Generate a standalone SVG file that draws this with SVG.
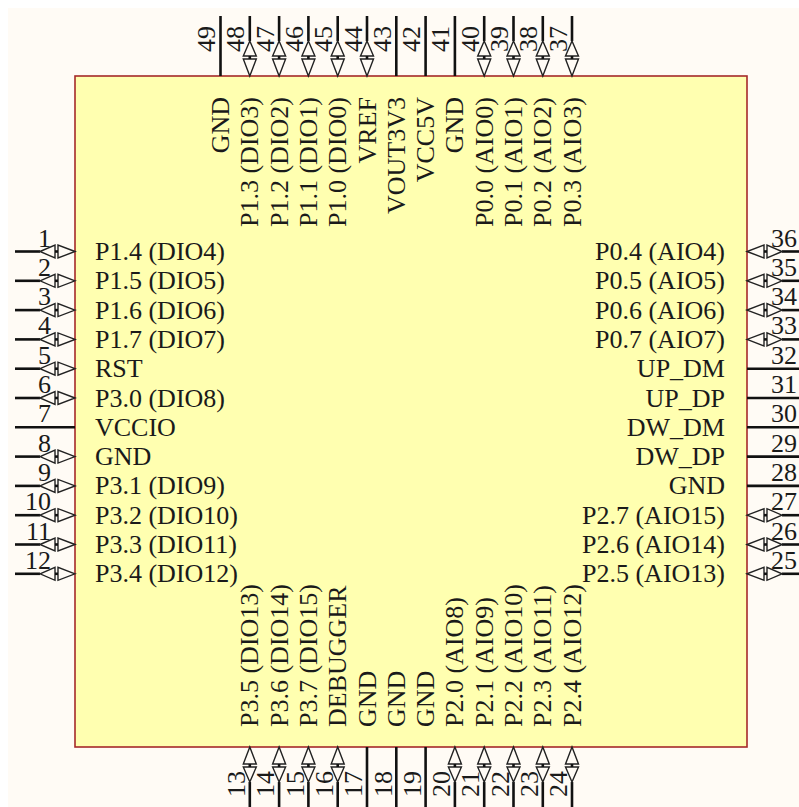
<svg xmlns="http://www.w3.org/2000/svg" width="799" height="807" viewBox="0 0 799 807">
<style>
text{font-family:"Liberation Serif","Times New Roman",serif;font-size:26px;fill:#1a1a1a}
.n{font-size:26px}
.e{text-anchor:end}
.w{stroke:#111;stroke-width:2.6;fill:none}
.a{stroke:#222;stroke-width:1.4;fill:#fffbf5}
</style>
<defs>
<g id="bi"><path class="w" d="M0 0H25"/><path class="a" d="M25 0L40 -6.5V6.5Z"/><path class="a" d="M60 0L43 -6.5V6.5Z"/><path class="w" d="M40 0H43"/></g>
<g id="pl"><path class="w" d="M0 0H60"/></g>
</defs>
<rect width="799" height="807" fill="#fff"/>
<rect x="8" y="8" width="791" height="799" fill="#fffbf5"/>
<rect id="body" x="75" y="76" width="672" height="671" fill="#ffffb0" stroke="#a52a2a" stroke-width="1.6"/>
<g id="connectors">
<use href="#bi" x="15" y="251.5"/><use href="#bi" x="15" y="280.8"/><use href="#bi" x="15" y="310.1"/><use href="#bi" x="15" y="339.4"/><use href="#bi" x="15" y="368.7"/><use href="#bi" x="15" y="398"/><use href="#pl" x="15" y="427.3"/><use href="#bi" x="15" y="456.6"/><use href="#bi" x="15" y="485.9"/><use href="#bi" x="15" y="515.2"/><use href="#bi" x="15" y="544.5"/><use href="#bi" x="15" y="573.8"/>
<use href="#bi" transform="translate(807 251.5) rotate(180)"/><use href="#bi" transform="translate(807 280.8) rotate(180)"/><use href="#bi" transform="translate(807 310.1) rotate(180)"/><use href="#bi" transform="translate(807 339.4) rotate(180)"/><use href="#pl" transform="translate(807 368.7) rotate(180)"/><use href="#pl" transform="translate(807 398) rotate(180)"/><use href="#pl" transform="translate(807 427.3) rotate(180)"/><use href="#pl" transform="translate(807 456.6) rotate(180)"/><use href="#pl" transform="translate(807 485.9) rotate(180)"/><use href="#bi" transform="translate(807 515.2) rotate(180)"/><use href="#bi" transform="translate(807 544.5) rotate(180)"/><use href="#bi" transform="translate(807 573.8) rotate(180)"/>
<use href="#pl" transform="translate(220.5 16) rotate(90)"/><use href="#bi" transform="translate(249.8 16) rotate(90)"/><use href="#bi" transform="translate(279.1 16) rotate(90)"/><use href="#bi" transform="translate(308.4 16) rotate(90)"/><use href="#bi" transform="translate(337.7 16) rotate(90)"/><use href="#bi" transform="translate(367 16) rotate(90)"/><use href="#pl" transform="translate(396.3 16) rotate(90)"/><use href="#pl" transform="translate(425.6 16) rotate(90)"/><use href="#pl" transform="translate(454.9 16) rotate(90)"/><use href="#bi" transform="translate(484.2 16) rotate(90)"/><use href="#bi" transform="translate(513.5 16) rotate(90)"/><use href="#bi" transform="translate(542.8 16) rotate(90)"/><use href="#bi" transform="translate(572 16) rotate(90)"/>
<use href="#bi" transform="translate(249.8 807) rotate(-90)"/><use href="#bi" transform="translate(279.1 807) rotate(-90)"/><use href="#bi" transform="translate(308.4 807) rotate(-90)"/><use href="#bi" transform="translate(337.7 807) rotate(-90)"/><use href="#pl" transform="translate(367 807) rotate(-90)"/><use href="#pl" transform="translate(396.3 807) rotate(-90)"/><use href="#pl" transform="translate(425.6 807) rotate(-90)"/><use href="#bi" transform="translate(454.9 807) rotate(-90)"/><use href="#bi" transform="translate(484.2 807) rotate(-90)"/><use href="#bi" transform="translate(513.5 807) rotate(-90)"/><use href="#bi" transform="translate(542.8 807) rotate(-90)"/><use href="#bi" transform="translate(572 807) rotate(-90)"/>
</g>
<g id="left-labels">
<text x="95" y="260">P1.4 (DIO4)</text><text x="95" y="289.3">P1.5 (DIO5)</text><text x="95" y="318.6">P1.6 (DIO6)</text><text x="95" y="347.9">P1.7 (DIO7)</text><text x="95" y="377.2">RST</text><text x="95" y="406.5">P3.0 (DIO8)</text><text x="95" y="435.8">VCCIO</text><text x="95" y="465.1">GND</text><text x="95" y="494.4">P3.1 (DIO9)</text><text x="95" y="523.7">P3.2 (DIO10)</text><text x="95" y="553">P3.3 (DIO11)</text><text x="95" y="582.3">P3.4 (DIO12)</text>
<text class="n e" x="51" y="246.5">1</text><text class="n e" x="51" y="275.8">2</text><text class="n e" x="51" y="305.1">3</text><text class="n e" x="51" y="334.4">4</text><text class="n e" x="51" y="363.7">5</text><text class="n e" x="51" y="393">6</text><text class="n e" x="51" y="422.3">7</text><text class="n e" x="51" y="451.6">8</text><text class="n e" x="51" y="480.9">9</text><text class="n e" x="51" y="510.2">10</text><text class="n e" x="51" y="539.5">11</text><text class="n e" x="51" y="568.8">12</text>
</g>
<g id="right-labels">
<text class="e" x="725" y="260">P0.4 (AIO4)</text><text class="e" x="725" y="289.3">P0.5 (AIO5)</text><text class="e" x="725" y="318.6">P0.6 (AIO6)</text><text class="e" x="725" y="347.9">P0.7 (AIO7)</text><text class="e" x="725" y="377.2">UP_DM</text><text class="e" x="725" y="406.5">UP_DP</text><text class="e" x="725" y="435.8">DW_DM</text><text class="e" x="725" y="465.1">DW_DP</text><text class="e" x="725" y="494.4">GND</text><text class="e" x="725" y="523.7">P2.7 (AIO15)</text><text class="e" x="725" y="553">P2.6 (AIO14)</text><text class="e" x="725" y="582.3">P2.5 (AIO13)</text>
<text class="n" x="771" y="246.5">36</text><text class="n" x="771" y="275.8">35</text><text class="n" x="771" y="305.1">34</text><text class="n" x="771" y="334.4">33</text><text class="n" x="771" y="363.7">32</text><text class="n" x="771" y="393">31</text><text class="n" x="771" y="422.3">30</text><text class="n" x="771" y="451.6">29</text><text class="n" x="771" y="480.9">28</text><text class="n" x="771" y="510.2">27</text><text class="n" x="771" y="539.5">26</text><text class="n" x="771" y="568.8">25</text>
</g>
<g id="top-labels">
<text class="e" transform="translate(229 97) rotate(-90)">GND</text><text class="e" transform="translate(258.3 97) rotate(-90)">P1.3 (DIO3)</text><text class="e" transform="translate(287.6 97) rotate(-90)">P1.2 (DIO2)</text><text class="e" transform="translate(316.9 97) rotate(-90)">P1.1 (DIO1)</text><text class="e" transform="translate(346.2 97) rotate(-90)">P1.0 (DIO0)</text><text class="e" transform="translate(375.5 97) rotate(-90)">VREF</text><text class="e" transform="translate(404.8 97) rotate(-90)">VOUT3V3</text><text class="e" transform="translate(434.1 97) rotate(-90)">VCC5V</text><text class="e" transform="translate(463.4 97) rotate(-90)">GND</text><text class="e" transform="translate(492.7 97) rotate(-90)">P0.0 (AIO0)</text><text class="e" transform="translate(522 97) rotate(-90)">P0.1 (AIO1)</text><text class="e" transform="translate(551.3 97) rotate(-90)">P0.2 (AIO2)</text><text class="e" transform="translate(580.6 97) rotate(-90)">P0.3 (AIO3)</text>
<text class="n" transform="translate(215 52) rotate(-90)">49</text><text class="n" transform="translate(244.3 52) rotate(-90)">48</text><text class="n" transform="translate(273.6 52) rotate(-90)">47</text><text class="n" transform="translate(302.9 52) rotate(-90)">46</text><text class="n" transform="translate(332.2 52) rotate(-90)">45</text><text class="n" transform="translate(361.5 52) rotate(-90)">44</text><text class="n" transform="translate(390.8 52) rotate(-90)">43</text><text class="n" transform="translate(420.1 52) rotate(-90)">42</text><text class="n" transform="translate(449.4 52) rotate(-90)">41</text><text class="n" transform="translate(478.7 52) rotate(-90)">40</text><text class="n" transform="translate(508 52) rotate(-90)">39</text><text class="n" transform="translate(537.3 52) rotate(-90)">38</text><text class="n" transform="translate(566.6 52) rotate(-90)">37</text>
</g>
<g id="bottom-labels">
<text transform="translate(258.3 727) rotate(-90)">P3.5 (DIO13)</text><text transform="translate(287.6 727) rotate(-90)">P3.6 (DIO14)</text><text transform="translate(316.9 727) rotate(-90)">P3.7 (DIO15)</text><text transform="translate(346.2 727) rotate(-90)">DEBUGGER</text><text transform="translate(375.5 727) rotate(-90)">GND</text><text transform="translate(404.8 727) rotate(-90)">GND</text><text transform="translate(434.1 727) rotate(-90)">GND</text><text transform="translate(463.4 727) rotate(-90)">P2.0 (AIO8)</text><text transform="translate(492.7 727) rotate(-90)">P2.1 (AIO9)</text><text transform="translate(522 727) rotate(-90)">P2.2 (AIO10)</text><text transform="translate(551.3 727) rotate(-90)">P2.3 (AIO11)</text><text transform="translate(580.6 727) rotate(-90)">P2.4 (AIO12)</text>
<text class="n" transform="translate(245 797) rotate(-90)">13</text><text class="n" transform="translate(274.3 797) rotate(-90)">14</text><text class="n" transform="translate(303.6 797) rotate(-90)">15</text><text class="n" transform="translate(332.9 797) rotate(-90)">16</text><text class="n" transform="translate(362.2 797) rotate(-90)">17</text><text class="n" transform="translate(391.5 797) rotate(-90)">18</text><text class="n" transform="translate(420.8 797) rotate(-90)">19</text><text class="n" transform="translate(450.1 797) rotate(-90)">20</text><text class="n" transform="translate(479.4 797) rotate(-90)">21</text><text class="n" transform="translate(508.7 797) rotate(-90)">22</text><text class="n" transform="translate(538 797) rotate(-90)">23</text><text class="n" transform="translate(567.3 797) rotate(-90)">24</text>
</g>
</svg>
